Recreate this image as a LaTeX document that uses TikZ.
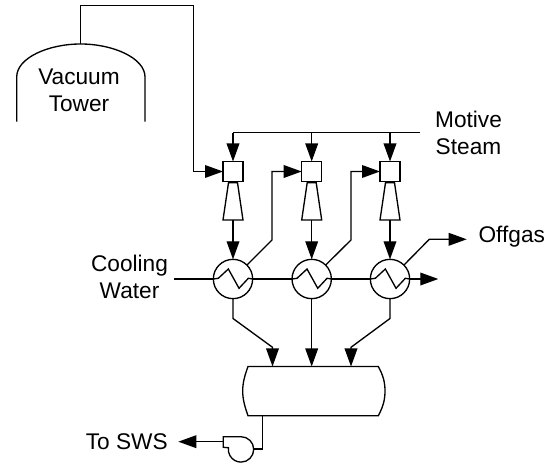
\documentclass[tikz,border=0pt]{standalone}
\usepackage{fontspec}
\setmainfont{Liberation Sans}
\usetikzlibrary{arrows.meta}
\tikzset{
    pipe/.style={line width=1pt, line join=miter},
    flow/.style={pipe, -{Triangle[length=13.5pt, width=9.5pt]}},
    ejbox/.style={draw, line width=1pt, minimum size=15pt, inner sep=0pt, outer sep=0pt},
    hxbody/.style={draw, line width=1pt, circle, minimum size=29.5pt, inner sep=0pt, outer sep=0pt},
    label/.style={font=\fontsize{17}{20.3}\selectfont, align=center, inner sep=0pt}
}
\begin{document}
\begin{tikzpicture}[x=0.75pt, y=-0.75pt]
\useasboundingbox (0,0) rectangle (557,466);

% Vacuum tower
\draw[pipe] (16.7,121.7) -- (16.7,77) .. controls (16.7,58) and (48,44) .. (80.7,44)
    .. controls (113,44) and (145,58) .. (145,77) -- (145,121.7);
\coordinate (towertop) at (80.7,44);
\node[label] (towerlbl) at (79,90) {Vacuum\\Tower};

% Ejectors and condensers
\foreach \n/\x in {1/233, 2/311.7, 3/390} {
    \node[ejbox] (ej\n) at (\x,171.5) {};
    \node[hxbody] (hx\n) at (\x,279) {};
    \coordinate (steam\n) at (\x,132.7);
    \coordinate (dfout\n) at (\x,220);
    % Diffuser
    \draw[pipe] (\x-4.5,182.7) -- (\x+4.5,182.7) -- (\x+10,220) -- (\x-10,220) -- cycle;
    \draw[flow] (steam\n) -- (ej\n);
    \draw[flow] (dfout\n) -- (hx\n);
    % Zigzag tube
    \draw[pipe] (hx\n.west) -- ++(5,-0.7) -- ++(10,-9.3) -- ++(10.7,19.3) -- ++(9.3,-10) -- (hx\n.east);
}

% Tower overhead
\coordinate (ovh1) at (80.7,5.7);
\coordinate (ovh2) at (193.3,5.7);
\coordinate (ovh3) at (193.3,171.5);
\draw[flow] (towertop) -- (ovh1) -- (ovh2) -- (ovh3) -- (ej1);

% Motive steam header
\coordinate (steamend) at (420,132.7);
\draw[pipe] (steam1) -- (steamend);
\node[label] (steamlbl) at (468.5,132.5) {Motive\\Steam};

% Interstage lines
\foreach \a/\b/\x in {1/2/272, 2/3/351} {
    \coordinate (kneea\a) at (\x,240);
    \coordinate (kneeb\a) at (\x,171.5);
    \draw[flow] (hx\a.45) -- (kneea\a) -- (kneeb\a) -- (ej\b);
}

% Offgas
\coordinate (gas1) at (429.3,239.3);
\coordinate (gas2) at (466.7,239.3);
\draw[flow] (hx3.45) -- (gas1) -- (gas2);
\node[label, anchor=west] (gaslbl) at (478.3,237) {Offgas};

% Cooling water
\coordinate (cwin) at (174,279);
\coordinate (cwout) at (438.3,279);
\draw[pipe] (cwin) -- (hx1.west);
\draw[pipe] (hx1.east) -- (hx2.west);
\draw[pipe] (hx2.east) -- (hx3.west);
\draw[flow] (hx3.east) -- (cwout);
\node[label] (cwlbl) at (129.5,277) {Cooling\\Water};

% Receiver drum
\draw[pipe] (248,366.5) -- (378.3,366.5) .. controls (383,375) and (385,382) .. (385,391)
    .. controls (385,400) and (383,407) .. (378.3,415.7) -- (248,415.7)
    .. controls (245,407) and (242.7,400) .. (242.7,391)
    .. controls (242.7,382) and (245,375) .. (248,366.5) -- cycle;
\coordinate (drum1) at (272.5,366.5);
\coordinate (drum2) at (311.7,366.5);
\coordinate (drum3) at (351,366.5);
\coordinate (drumout) at (262.7,415.7);

% Condensate drains
\coordinate (dra1) at (233,318.5);
\coordinate (dra2) at (272.5,347.3);
\coordinate (drc1) at (390,318.5);
\coordinate (drc2) at (351,347.3);
\draw[flow] (hx1.south) -- (dra1) -- (dra2) -- (drum1);
\draw[flow] (hx2.south) -- (drum2);
\draw[flow] (hx3.south) -- (drc1) -- (drc2) -- (drum3);

% Pump
\coordinate (pumpin) at (262.7,449);
\coordinate (pumpeye) at (253.7,449);
\coordinate (pumpout) at (223.3,441.7);
\coordinate (swstip) at (178.3,441.7);
\draw[pipe] (drumout) -- (pumpin) -- (pumpeye);
\draw[pipe] (241,436.7) arc (-90:187.5:12.7) -- (223.3,447.3) -- (223.3,436.7) -- cycle;
\draw[flow] (pumpout) -- (swstip);
\node[label, anchor=east] (swslbl) at (168,442) {To SWS};

\end{tikzpicture}
\end{document}
